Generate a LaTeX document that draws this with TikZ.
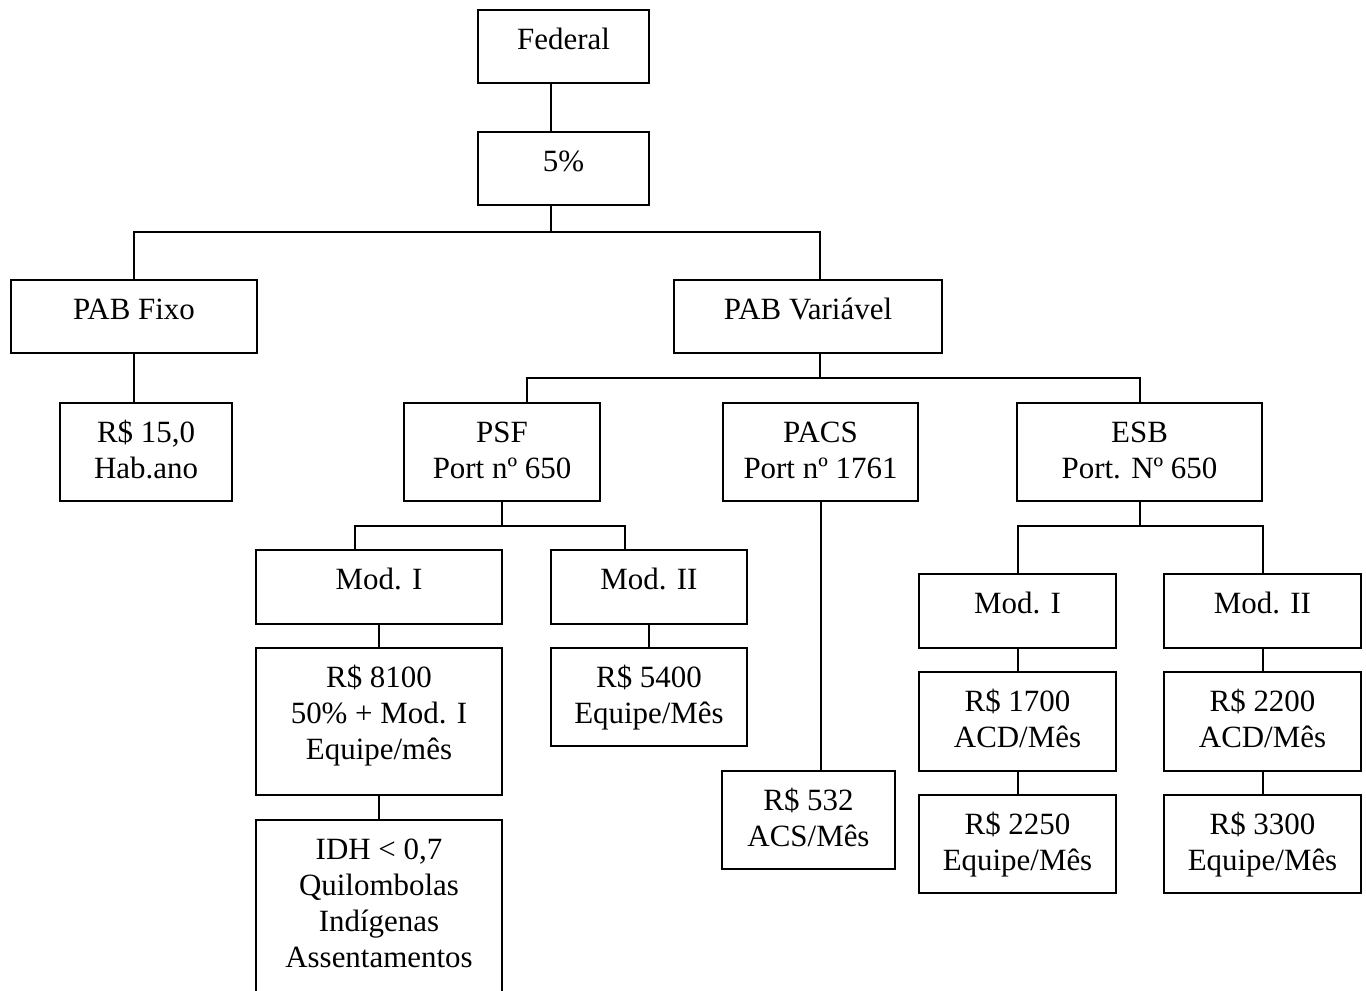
\documentclass[tikz,border=0pt]{standalone}
\usepackage{fontspec}
\setmainfont{Liberation Serif}
\usetikzlibrary{fit,calc}
\newcommand\tl[1]{\begin{tabular}[t]{@{}c@{}}#1\end{tabular}}
\newcommand\mybox[6]{%
  \node[box, fit={(#2,#3) (#4,#5)}] (#1) {};
  \node[txt] (#1-t) at ($(#1.north)+(0,40)$) {\tl{#6}};}
\begin{document}
\begin{tikzpicture}[x=0.75pt,y=-0.75pt,
  box/.style={draw, line width=1.4pt, inner sep=0pt},
  txt/.style={anchor=base, inner sep=0pt, font=\fontsize{23.2}{27.2}\selectfont},
  conn/.style={draw, line width=1.2pt, line join=miter}]
\useasboundingbox (0,0) rectangle (1366,990);
\mybox{fed}{478}{10}{649}{83}{Federal}
\mybox{pct}{478}{132}{649}{205}{5\%}
\mybox{fixo}{11}{280}{257}{353}{PAB Fixo}
\mybox{var}{674}{280}{942}{353}{PAB Variável}
\mybox{r15}{60}{403}{232}{501}{R\$ 15,0\\Hab.ano}
\mybox{psf}{404}{403}{600}{501}{PSF\\Port nº 650}
\mybox{pacs}{723}{403}{918}{501}{PACS\\Port nº 1761}
\mybox{esb}{1017}{403}{1262}{501}{ESB\\Port. Nº 650}
\mybox{psfm1}{256}{550}{502}{624}{Mod. I}
\mybox{psfm2}{551}{550}{747}{624}{Mod. II}
\mybox{r8100}{256}{648}{502}{795}{R\$ 8100\\50\% + Mod. I\\Equipe/mês}
\mybox{r5400}{551}{648}{747}{746}{R\$ 5400\\Equipe/Mês}
\mybox{idh}{256}{820}{502}{1000}{IDH < 0,7\\Quilombolas\\Indígenas\\Assentamentos}
\mybox{r532}{722}{771}{895}{869}{R\$ 532\\ACS/Mês}
\mybox{esbm1}{919}{574}{1116}{648}{Mod. I}
\mybox{esbm2}{1164}{574}{1361}{648}{Mod. II}
\mybox{r1700}{919}{672}{1116}{771}{R\$ 1700\\ACD/Mês}
\mybox{r2250}{919}{795}{1116}{893}{R\$ 2250\\Equipe/Mês}
\mybox{r2200}{1164}{672}{1361}{771}{R\$ 2200\\ACD/Mês}
\mybox{r3300}{1164}{795}{1361}{893}{R\$ 3300\\Equipe/Mês}
% top bus
\coordinate (b1) at (551,232);
\coordinate (bL) at (134,232);
\coordinate (bR) at (820,232);
\draw[conn] (fed.south -| b1) -- (pct.north -| b1);
\draw[conn] (pct.south -| b1) -- (b1);
\draw[conn] (fixo.north -| bL) -- (bL) -- (bR) -- (var.north -| bR);
\draw[conn] (fixo.south -| bL) -- (r15.north -| bL);
% second bus
\coordinate (b2) at (820,378);
\coordinate (b2L) at (527,378);
\coordinate (b2R) at (1140,378);
\draw[conn] (var.south -| b2) -- (b2);
\draw[conn] (psf.north -| b2L) -- (b2L) -- (b2R) -- (esb.north -| b2R);
\coordinate (p1) at (821,600);
\draw[conn] (pacs.south -| p1) -- (r532.north -| p1);
% PSF bus
\coordinate (b3) at (502,526);
\coordinate (b3L) at (355,526);
\coordinate (b3R) at (625,526);
\draw[conn] (psf.south -| b3) -- (b3);
\draw[conn] (psfm1.north -| b3L) -- (b3L) -- (b3R) -- (psfm2.north -| b3R);
\coordinate (p2) at (379,600);
\draw[conn] (psfm1.south -| p2) -- (r8100.north -| p2);
\draw[conn] (r8100.south -| p2) -- (idh.north -| p2);
\coordinate (p3) at (649,600);
\draw[conn] (psfm2.south -| p3) -- (r5400.north -| p3);
% ESB bus
\coordinate (b4) at (1140,526);
\coordinate (b4L) at (1018,526);
\coordinate (b4R) at (1263,526);
\draw[conn] (esb.south -| b4) -- (b4);
\draw[conn] (esbm1.north -| b4L) -- (b4L) -- (b4R) -- (esbm2.north -| b4R);
\draw[conn] (esbm1.south -| b4L) -- (r1700.north -| b4L);
\draw[conn] (r1700.south -| b4L) -- (r2250.north -| b4L);
\draw[conn] (esbm2.south -| b4R) -- (r2200.north -| b4R);
\draw[conn] (r2200.south -| b4R) -- (r3300.north -| b4R);
\end{tikzpicture}
\end{document}
